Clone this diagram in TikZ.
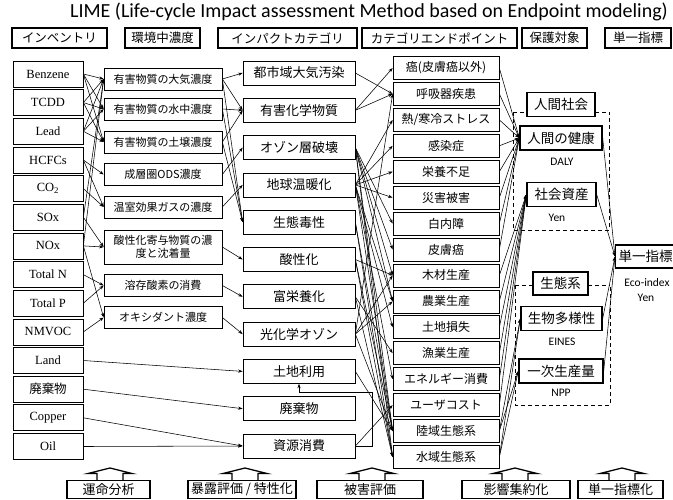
\documentclass[tikz,border=0pt]{standalone}
\usepackage{fontspec}
\setmainfont{Liberation Serif}
\newfontfamily\jp{Noto Sans CJK JP}
\newfontfamily\cb{Carlito}
\usetikzlibrary{arrows.meta}
\begin{document}
\begin{tikzpicture}[x=1pt,y=-1pt,
  hdr/.style={draw,line width=1.1pt,inner sep=0pt,minimum height=20pt,font=\jp\fontsize{12.5}{13}\selectfont},
  inv/.style={draw,line width=0.7pt,inner sep=0pt,minimum width=70pt,minimum height=26pt,font=\fontsize{12.5}{13}\selectfont},
  conc/.style={draw,line width=0.7pt,inner sep=0pt,minimum width=118pt,minimum height=22pt,align=center,font=\jp\fontsize{11}{13}\selectfont},
  cat/.style={draw,line width=0.7pt,inner sep=0pt,minimum width=112pt,minimum height=24pt,font=\jp\fontsize{13}{14}\selectfont},
  endp/.style={draw,line width=0.7pt,inner sep=0pt,minimum width=106pt,minimum height=23pt,font=\jp\fontsize{12}{13}\selectfont},
  prot/.style={draw,line width=1.4pt,inner sep=0pt,minimum height=24pt,font=\jp\fontsize{13.5}{14}\selectfont},
  unit/.style={font=\cb\fontsize{11.5}{12}\selectfont,inner sep=0pt},
  bot/.style={draw,line width=1.4pt,inner sep=0pt,minimum height=18pt,fill=white,font=\jp\fontsize{13}{14}\selectfont},
  conn/.style={-{Stealth[length=4.5pt,width=3.2pt]},line width=0.55pt},
  grp/.style={line width=0.9pt,dash pattern=on 4pt off 3pt},
  barrow/.style={line width=1.3pt,fill=white,line join=miter}
]
\useasboundingbox (0,0) rectangle (673,499);

\node[font=\cb\fontsize{20}{20}\selectfont] (title) at (369,12) {LIME (Life-cycle Impact assessment Method based on Endpoint modeling)};

% header row
\node[hdr,minimum width=95pt] (h1) at (59.5,38) {インベントリ};
\node[hdr,minimum width=75pt] (h2) at (162.5,38) {環境中濃度};
\node[hdr,minimum width=139pt] (h3) at (287.5,38) {インパクトカテゴリ};
\node[hdr,minimum width=155pt] (h4) at (439.5,38) {カテゴリエンドポイント};
\node[hdr,minimum width=65pt] (h5) at (554.5,38) {保護対象};
\node[hdr,minimum width=66pt] (h6) at (638,38) {単一指標};

% inventory
\node[inv] (i1) at (48,74) {Benzene};
\node[inv] (i2) at (48,102.6) {TCDD};
\node[inv] (i3) at (48,131.3) {Lead};
\node[inv] (i4) at (48,160) {HCFCs};
\node[inv] (i5) at (48,188.6) {CO\textsubscript{2}};
\node[inv] (i6) at (48,217.3) {SOx};
\node[inv] (i7) at (48,245.9) {NOx};
\node[inv] (i8) at (48,274.6) {Total N};
\node[inv] (i9) at (48,303.2) {Total P};
\node[inv] (i10) at (48,331.9) {NMVOC};
\node[inv] (i11) at (48,360.5) {Land};
\node[inv,font=\jp\fontsize{12.5}{13}\selectfont] (i12) at (48,389.2) {廃棄物};
\node[inv] (i13) at (48,417.8) {Copper};
\node[inv] (i14) at (48,446.5) {Oil};

% concentrations
\node[conc] (c1) at (163,79) {有害物質の大気濃度};
\node[conc] (c2) at (163,109) {有害物質の水中濃度};
\node[conc] (c3) at (163,142) {有害物質の土壌濃度};
\node[conc] (c4) at (163,174.5) {成層圏ODS濃度};
\node[conc] (c5) at (163,207) {温室効果ガスの濃度};
\node[conc,minimum height=34pt] (c6) at (163,247) {酸性化寄与物質の濃\\度と沈着量};
\node[conc] (c7) at (163,285.5) {溶存酸素の消費};
\node[conc] (c8) at (163,317.5) {オキシダント濃度};

% impact categories
\node[cat] (k1) at (299,73) {都市域大気汚染};
\node[cat] (k2) at (299,110.3) {有害化学物質};
\node[cat] (k3) at (299,147.6) {オゾン層破壊};
\node[cat] (k4) at (299,184.9) {地球温暖化};
\node[cat] (k5) at (299,222.2) {生態毒性};
\node[cat] (k6) at (299,259.5) {酸性化};
\node[cat] (k7) at (299,296.8) {富栄養化};
\node[cat] (k8) at (299,334.1) {光化学オゾン};
\node[cat] (k9) at (299,371.4) {土地利用};
\node[cat] (k10) at (299,408.7) {廃棄物};
\node[cat] (k11) at (299,446) {資源消費};

% category endpoints
\node[endp] (e1) at (446,68) {癌(皮膚癌以外)};
\node[endp] (e2) at (446,93.9) {呼吸器疾患};
\node[endp] (e3) at (446,119.9) {熱/寒冷ストレス};
\node[endp] (e4) at (446,145.8) {感染症};
\node[endp] (e5) at (446,171.7) {栄養不足};
\node[endp] (e6) at (446,197.7) {災害被害};
\node[endp] (e7) at (446,223.6) {白内障};
\node[endp] (e8) at (446,249.5) {皮膚癌};
\node[endp] (e9) at (446,275.4) {木材生産};
\node[endp] (e10) at (446,301.4) {農業生産};
\node[endp] (e11) at (446,327.3) {土地損失};
\node[endp] (e12) at (446,353.2) {漁業生産};
\node[endp] (e13) at (446,379.2) {エネルギー消費};
\node[endp] (e14) at (446,405.1) {ユーザコスト};
\node[endp] (e15) at (446,431) {陸域生態系};
\node[endp] (e16) at (446,457) {水域生態系};

% protection targets
\draw[grp] (513,112) -- (527,112) (595,112) -- (609,112) (513,112) -- (513,230) -- (609,230) -- (609,112);
\draw[grp] (515,285) -- (533,285) (588,285) -- (610,285) (515,285) -- (515,405) -- (610,405) -- (610,285);
\node[prot,minimum width=68pt] (ps0) at (561,104.5) {人間社会};
\node[prot,minimum width=82pt] (ph) at (561,138) {人間の健康};
\node[unit] (uh) at (562,162) {DALY};
\node[prot,minimum width=69pt] (ps) at (561.5,194.5) {社会資産};
\node[unit] (us) at (557,218) {Yen};
\node[prot,minimum width=55pt,minimum height=23pt] (pe0) at (560.5,283.5) {生態系};
\node[prot,minimum width=81pt] (pb) at (561.5,318.5) {生物多様性};
\node[unit] (ub) at (562,342) {EINES};
\node[prot,minimum width=84pt] (pn) at (561,371) {一次生産量};
\node[unit] (un) at (561,393) {NPP};
\node[prot,minimum width=60pt,minimum height=23pt,anchor=west] (sg) at (615,256.5) {単一指標};
\node[unit] (ue) at (647,283) {Eco-index};
\node[unit] (uy) at (646,298) {Yen};

% inventory -> concentrations
\foreach \a/\b in {i1/c1,i1/c2,i1/c3,i2/c1,i2/c2,i2/c3,i3/c1,i3/c2,i3/c3,i4/c4,i4/c5,i5/c5,i6/c6,i6/c1,i7/c6,i7/c1,i7/c8,i8/c7,i9/c7,i10/c8,i11/k9,i12/k10,i13/k11,i14/k11}
  \draw[conn] (\a.east) -- (\b.west);
% concentrations -> categories
\foreach \a/\b in {c1/k1,c1/k2,c1/k5,c2/k2,c2/k5,c3/k2,c3/k5,c4/k3,c5/k4,c6/k6,c7/k7,c8/k8}
  \draw[conn] (\a.east) -- (\b.west);
% categories -> endpoints
\foreach \a/\b in {k1/e2,k2/e1,k2/e2,k3/e7,k3/e8,k3/e9,k3/e10,k3/e15,k3/e16,k4/e3,k4/e4,k4/e5,k4/e6,k4/e10,k4/e11,k4/e13,k4/e15,k5/e15,k5/e16,k6/e9,k6/e15,k6/e16,k7/e12,k7/e16,k8/e2,k8/e9,k8/e10,k8/e15,k9/e15,k11/e14}
  \draw[conn] (\a.east) -- (\b.west);
% resource -> land use
\coordinate (r1) at (372,446);
\coordinate (r2) at (372,392);
\coordinate (r3) at (299,392);
\draw[line width=0.55pt] (k11.east) -- (r1) -- (r2) -- (r3);
\draw[conn] (r3) -- (k9.south);
% endpoints -> protection targets
\foreach \a in {e1,e2,e3,e4,e5,e6,e7,e8}
  \draw[conn] (\a.east) -- (ph.west);
\foreach \a in {e9,e10,e11,e12,e13,e14}
  \draw[conn] (\a.east) -- (ps.west);
\foreach \a in {e15,e16}{
  \draw[conn] (\a.east) -- (pb.west);
  \draw[conn] (\a.east) -- (pn.west);}
% protection -> single index
\foreach \a in {ph,ps,pb,pn}
  \draw[conn] (\a.east) -- (sg.west);

% bottom steps
\foreach \n/\cx/\bx/\w/\t in {b1/110/108.5/83/{運命分析},b2/245/242/108/{暴露評価 / 特性化},b3/372/370/106/{被害評価},b4/515/516/108/{影響集約化},b5/622/620.5/85/{単一指標化}}{
  \draw[barrow] (\cx-13,481) -- (\cx-13,473.5) -- (\cx-22,473.5) -- (\cx,468) -- (\cx+22,473.5) -- (\cx+13,473.5) -- (\cx+13,481);
  \node[bot,minimum width=\w pt] (\n) at (\bx,489.5) {\t};
}
\end{tikzpicture}
\end{document}
